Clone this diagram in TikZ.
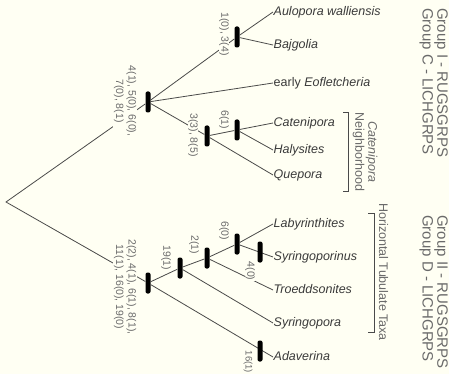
\documentclass[tikz,border=0pt]{standalone}
\usepackage{fontspec}
\setmainfont{Liberation Sans}
\usepackage{xcolor}
\definecolor{PaperCream}{HTML}{FFFFF3}
\definecolor{BranchGray}{HTML}{4A4A4A}
\definecolor{CharGray}{HTML}{6A6A6A}
\definecolor{TaxonGray}{HTML}{3A3A3A}

\begin{document}
\begin{tikzpicture}[x=1pt, y=-1pt,
  synapo/.style={fill=black, rounded corners=2pt, minimum width=5pt, minimum height=21pt, inner sep=0pt},
  taxon/.style={anchor=west, inner sep=0.5pt, text height=7pt, text depth=0pt, text=TaxonGray, font=\fontsize{12.5}{14}\selectfont\itshape},
  chars/.style={rotate=-90, align=center, fill=PaperCream, inner sep=0.6pt, text=CharGray, font=\fontsize{10.5}{12.5}\selectfont},
  side/.style={rotate=-90, align=center, inner sep=0pt, text=CharGray, font=\fontsize{12.5}{13}\selectfont},
  group/.style={rotate=-90, align=left, anchor=north west, inner sep=0pt, text=CharGray, font=\fontsize{15}{13}\selectfont},
  branch/.style={BranchGray, line width=0.8pt}]
\path[fill=PaperCream, use as bounding box] (0,0) rectangle (449,374);

\coordinate (root) at (6,202);
\node[synapo] (upper) at (148,102) {};
\node[synapo] (auloBaj) at (237,37) {};
\node[synapo] (catQue) at (207,136) {};
\node[synapo] (catHal) at (237,130) {};
\node[synapo] (lower) at (148,283) {};
\node[synapo] (syrTro) at (180,268) {};
\node[synapo] (troLab) at (207,258) {};
\node[synapo] (labSyr) at (237,244) {};

\node[taxon] (aulopora) at (273,12) {Aulopora walliensis};
\node[taxon] (bajgolia) at (273,45) {Bajgolia};
\node[taxon] (eofl) at (273,83) {\upshape early \itshape Eofletcheria};
\node[taxon] (catenipora) at (273,123) {Catenipora};
\node[taxon] (halysites) at (273,150) {Halysites};
\node[taxon] (quepora) at (273,175) {Quepora};
\node[taxon] (labyr) at (273,224) {Labyrinthites};
\node[taxon] (syrinus) at (273,257) {Syringoporinus};
\node[taxon] (troedd) at (273,290) {Troeddsonites};
\node[taxon] (syring) at (273,323) {Syringopora};
\node[taxon] (adav) at (273,357) {Adaverina};

\draw[branch] (upper) -- (root) -- (lower);
\draw[branch] (upper) -- (auloBaj);
\draw[branch] (upper) -- (eofl.west);
\draw[branch] (upper) -- (catQue);
\draw[branch] (auloBaj) -- (aulopora.west);
\draw[branch] (auloBaj) -- (bajgolia.west);
\draw[branch] (catQue) -- (catHal);
\draw[branch] (catQue) -- (quepora.west);
\draw[branch] (catHal) -- (catenipora.west);
\draw[branch] (catHal) -- (halysites.west);
\draw[branch] (lower) -- (syrTro);
\draw[branch] (lower) -- (adav.west);
\draw[branch] (syrTro) -- (troLab);
\draw[branch] (syrTro) -- (syring.west);
\draw[branch] (troLab) -- (labSyr);
\draw[branch] (troLab) -- (troedd.west);
\draw[branch] (labSyr) -- (labyr.west);
\draw[branch] (labSyr) -- (syrinus.west);

\node[synapo] (syrinusBar) at (260,252) {};
\node[synapo] (adavBar) at (260,351) {};

\node[chars] (chUpper) at (125,101) {4(1), 5(0), 6(0),\\7(0), 8(1)};
\node[chars] (chAulo) at (224,34) {1(0), 3(4)};
\node[chars] (chCatQue) at (193,135) {3(3), 8(5)};
\node[chars] (chCatHal) at (224,120) {6(1)};
\node[chars] (chLower) at (125,287) {2(2), 4(1), 6(1), 8(1),\\11(1), 16(0), 19(0)};
\node[chars] (chSyrTro) at (166,258) {19(1)};
\node[chars] (chTroLab) at (194,245) {2(1)};
\node[chars] (chLabSyr) at (224,231) {6(0)};
\node[chars] (chSyrinus) at (250,271) {4(0)};
\node[chars, anchor=west, font=\fontsize{9.5}{11}\selectfont] (chAdav) at (248,350) {16(1)};

\draw[branch, line width=0.7pt] (343,112) -- (348,112) -- (348,191) -- (343,191);
\node[side] (catNbhd) at (365,152) {\itshape Catenipora\\Neighborhood};
\draw[branch, line width=0.7pt] (368,213) -- (374,213) -- (374,332) -- (368,332);
\node[side] (horizTab) at (383.5,272) {Horizontal Tubulate Taxa};

\node[group] (grpUpper) at (448,8) {Group I - RUGSGRPS\\Group C - LICHGRPS};
\node[group] (grpLower) at (448,215) {Group II - RUGSGRPS\\Group D - LICHGRPS};
\end{tikzpicture}
\end{document}
